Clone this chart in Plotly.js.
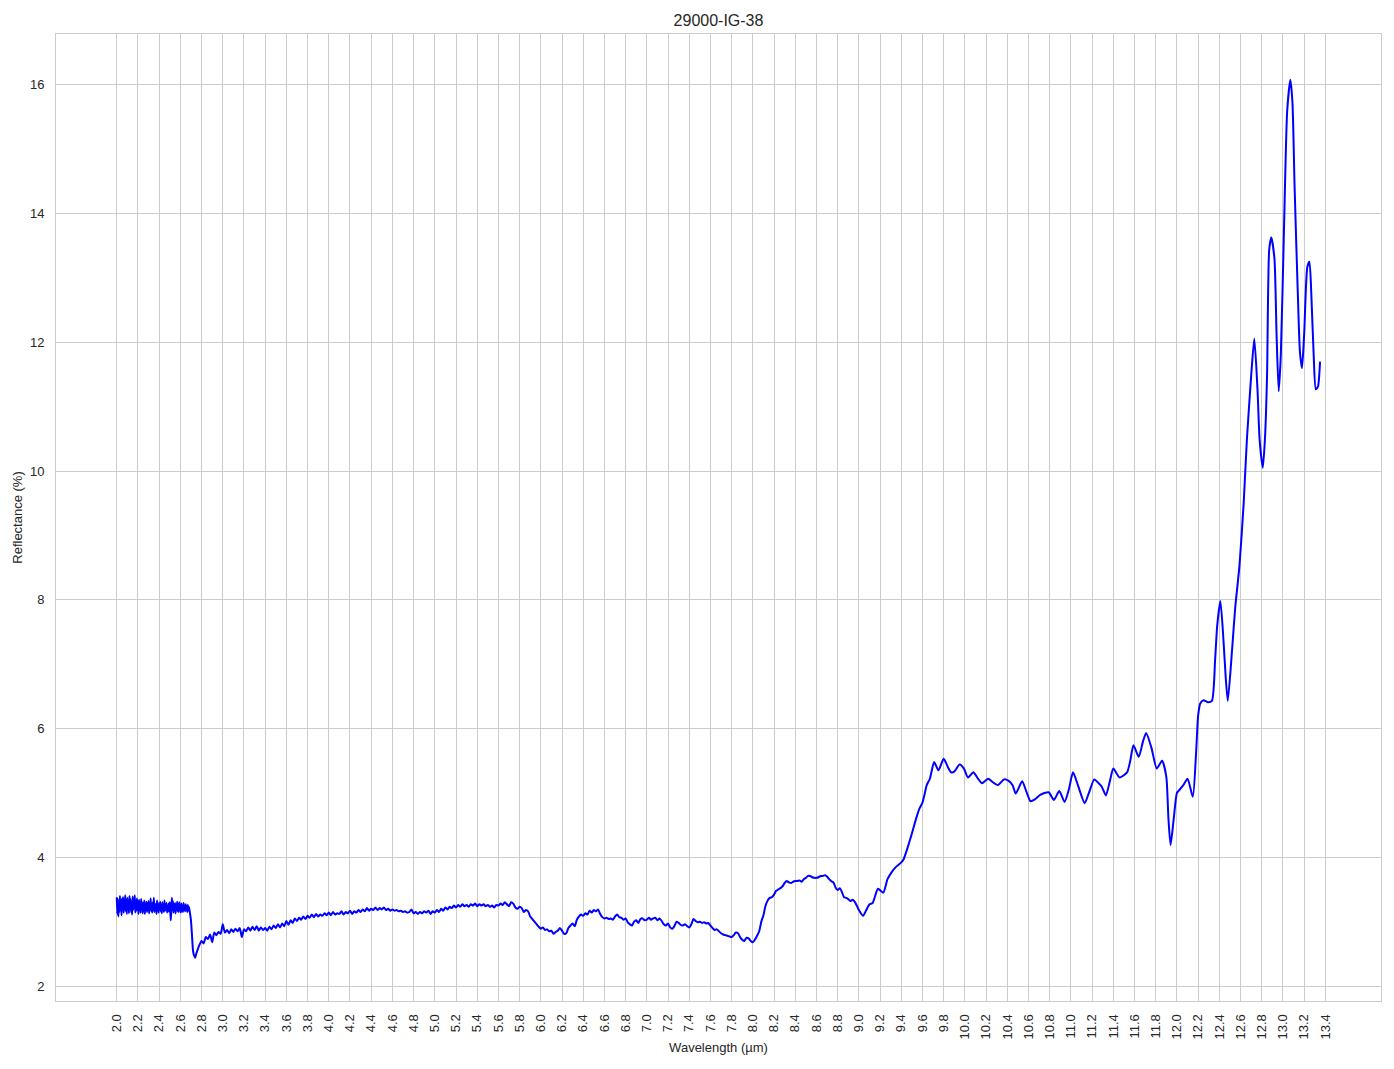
<!DOCTYPE html>
<html>
<head>
<meta charset="utf-8">
<script src="https://cdn.plot.ly/plotly-3.0.1.min.js"></script>
<style>html,body{margin:0;padding:0;background:#fff;}#chart{width:1394px;height:1069px;}</style>
</head>
<body>
<div id="chart"></div>
<script>
// ---- data ----
const chartTitle = "29000-IG-38";
const xLabel = "Wavelength (µm)";
const yLabel = "Reflectance (%)";

// noisy start, sampled on a regular wavelength grid
const seg1Start = 2.0, seg1Step = 0.005;
const seg1Y = [
3.38,3.12,3.35,3.08,3.30,3.15,3.40,3.18,3.33,3.10,
3.36,3.22,3.38,3.14,3.29,3.20,3.41,3.16,3.34,3.12,
3.37,3.19,3.32,3.13,3.40,3.21,3.35,3.15,3.30,3.11,
3.39,3.18,3.33,3.22,3.41,3.14,3.28,3.17,3.36,3.20,
3.31,3.12,3.34,3.19,3.27,3.14,3.35,3.21,3.30,3.13,
3.29,3.17,3.33,3.12,3.26,3.20,3.31,3.15,3.28,3.18,
3.32,3.13,3.27,3.19,3.36,3.16,3.25,3.14,3.30,3.18,
3.37,3.15,3.28,3.20,3.26,3.12,3.33,3.17,3.29,3.14,
3.27,3.19,3.31,3.16,3.25,3.13,3.30,3.18,3.27,3.15,
3.33,3.17,3.26,3.20,3.29,3.14,3.24,3.16,3.28,3.16,
3.30,3.15,3.02,3.19,3.37,3.18,3.32,3.14,3.27,3.17,
3.29,3.13,3.25,3.19,3.31,3.16,3.27,3.15,3.30,3.18,
3.26,3.14,3.28,3.17,3.24,3.15,3.29,3.19,3.25,3.16,
3.27,3.18,3.24,3.15,3.26,3.17,3.23,3.19
];

// the sharp drop near 2.7 µm
const dropX = [2.69,2.70,2.71,2.72,2.73,2.74,2.75];
const dropY = [3.14,3.02,2.78,2.54,2.47,2.44,2.50];

// slowly rising noisy plateau
const seg2Start = 2.76, seg2Step = 0.02;
const seg2Y = [
2.55,2.64,2.70,2.66,2.76,2.73,2.80,2.68,2.83,2.79,
2.84,2.81,2.96,2.83,2.87,2.82,2.88,2.84,2.89,2.85,
2.90,2.76,2.88,2.85,2.91,2.86,2.92,2.87,2.93,2.86,
2.91,2.87,2.90,2.86,2.92,2.88,2.94,2.90,2.96,2.91,
2.97,2.93,3.01,2.95,3.02,2.98,3.05,3.01,3.06,3.03,
3.08,3.04,3.09,3.06,3.11,3.07,3.12,3.08,3.11,3.09,
3.13,3.10,3.14,3.10,3.15,3.11,3.13,3.12,3.16,3.11,
3.15,3.13,3.17,3.12,3.16,3.14,3.18,3.15,3.19,3.16,
3.21,3.17,3.20,3.18,3.22,3.18,3.21,3.19,3.22,3.18,
3.20,3.17,3.19,3.17,3.18,3.16,3.17,3.15,3.16,3.14,
3.15,3.19,3.13,3.15,3.12,3.15,3.13,3.16,3.14,3.17,
3.12,3.16,3.14,3.18,3.15,3.20,3.17,3.22,3.19,3.23,
3.21,3.25,3.22,3.26,3.23,3.27,3.24,3.26,3.23,3.27,
3.25,3.28,3.24,3.27,3.25,3.27,3.24,3.26,3.23,3.25,
3.22,3.26,3.25,3.28,3.26,3.30,3.27,3.24,3.30,3.28,
3.22,3.20,3.23,3.21,3.15,3.18,3.16,3.08
];

// middle section 5.92 - 9.00 µm
const seg3Start = 5.92, seg3Step = 0.02;
const seg3Y = [
3.04,3.00,2.96,2.92,2.89,2.91,2.87,2.88,2.85,2.86,
2.81,2.84,2.86,2.90,2.86,2.81,2.82,2.90,2.94,2.97,
2.93,3.03,3.08,3.11,3.09,3.13,3.11,3.17,3.14,3.18,
3.16,3.19,3.12,3.07,3.05,3.06,3.04,3.05,3.03,3.08,
3.11,3.07,3.06,3.03,3.05,2.99,2.96,2.94,3.00,3.02,
2.98,3.04,3.05,3.02,3.03,3.06,3.03,3.05,3.06,3.02,
3.05,3.01,2.96,2.94,2.97,2.91,2.89,2.93,3.00,2.98,
2.95,2.94,2.96,2.93,2.91,2.96,3.04,3.01,2.99,3.00,
2.98,2.99,2.97,2.98,2.94,2.90,2.87,2.88,2.85,2.82,
2.80,2.79,2.78,2.77,2.76,2.79,2.83,2.82,2.76,2.72,
2.70,2.75,2.74,2.70,2.68,2.72,2.78,2.85,3.00,3.10,
3.25,3.33,3.37,3.38,3.42,3.48,3.50,3.52,3.55,3.60,
3.63,3.61,3.60,3.62,3.63,3.63,3.64,3.62,3.66,3.68,
3.71,3.71,3.69,3.68,3.68,3.69,3.71,3.71,3.72,3.70,
3.66,3.63,3.61,3.53,3.49,3.52,3.46,3.38,3.37,3.35,
3.32,3.34,3.31,3.25,3.18
];

// smooth oscillating tail 9.04 - 13.35 µm
const tailX = [
9.04,9.07,9.10,9.13,9.18,9.23,9.27,9.31,9.35,9.40,9.42,9.46,9.50,9.54,9.57,9.60,9.62,9.64,9.67,9.71,
9.75,9.80,9.84,9.87,9.90,9.95,9.99,10.03,10.08,10.12,10.16,10.22,10.26,10.31,10.37,10.41,10.45,10.48,10.54,10.58,
10.62,10.66,10.71,10.79,10.84,10.89,10.94,10.98,11.02,11.07,11.13,11.17,11.22,11.25,11.29,11.33,11.37,11.40,11.46,11.53,
11.56,11.59,11.64,11.68,11.71,11.76,11.81,11.86,11.90,11.92,11.94,11.97,12.00,12.02,12.06,12.10,12.15,12.18,12.20,12.22,
12.25,12.29,12.33,12.36,12.38,12.41,12.44,12.46,12.48,12.52,12.55,12.59,12.63,12.66,12.70,12.73,12.76,12.78,12.81,12.83,
12.85,12.87,12.89,12.92,12.94,12.96,12.98,13.01,13.04,13.07,13.09,13.11,13.14,13.16,13.18,13.20,13.23,13.25,13.27,13.29,
13.31,13.33,13.35
];
const tailY = [
3.09,3.18,3.27,3.29,3.51,3.45,3.66,3.77,3.85,3.92,3.96,4.15,4.37,4.60,4.75,4.85,4.98,5.12,5.22,5.48,
5.35,5.53,5.40,5.32,5.33,5.44,5.38,5.24,5.32,5.23,5.15,5.22,5.17,5.12,5.21,5.19,5.12,4.99,5.18,5.02,
4.87,4.90,4.97,5.01,4.89,5.03,4.86,5.05,5.32,5.10,4.84,5.00,5.21,5.17,5.10,4.96,5.20,5.38,5.24,5.32,
5.50,5.74,5.56,5.80,5.93,5.70,5.38,5.50,5.25,4.60,4.19,4.60,5.00,5.04,5.12,5.22,4.94,5.60,6.20,6.39,
6.44,6.41,6.43,7.06,7.60,7.98,7.35,6.80,6.43,7.22,7.88,8.53,9.51,10.49,11.47,12.06,11.27,10.49,10.05,10.49,
11.47,13.43,13.63,13.30,12.12,11.24,11.80,13.76,15.59,16.08,15.72,14.41,12.78,11.86,11.60,12.12,13.17,13.25,12.65,11.80,
11.27,11.31,11.70
];

const xTickVals = [2.0,2.2,2.4,2.6,2.8,3.0,3.2,3.4,3.6,3.8,4.0,4.2,4.4,4.6,4.8,5.0,5.2,5.4,5.6,5.8,
6.0,6.2,6.4,6.6,6.8,7.0,7.2,7.4,7.6,7.8,8.0,8.2,8.4,8.6,8.8,9.0,9.2,9.4,9.6,9.8,
10.0,10.2,10.4,10.6,10.8,11.0,11.2,11.4,11.6,11.8,12.0,12.2,12.4,12.6,12.8,13.0,13.2,13.4];
const yTickVals = [2,4,6,8,10,12,14,16];

// ---- assemble the series ----
const xs = [], ys = [];
seg1Y.forEach((v,i)=>{ xs.push(+(seg1Start + i*seg1Step).toFixed(3)); ys.push(v); });
dropX.forEach((v,i)=>{ xs.push(v); ys.push(dropY[i]); });
seg2Y.forEach((v,i)=>{ xs.push(+(seg2Start + i*seg2Step).toFixed(3)); ys.push(v); });
seg3Y.forEach((v,i)=>{ xs.push(+(seg3Start + i*seg3Step).toFixed(3)); ys.push(v); });
tailX.forEach((v,i)=>{ xs.push(v); ys.push(tailY[i]); });

const textColor = '#262626';
const gridColor = '#cccccc';
const fontFamily = '"Liberation Sans", Arial, Helvetica, sans-serif';

const trace = {
  x: xs, y: ys, type: 'scatter', mode: 'lines',
  line: {color: '#0000ff', width: 2, shape: 'spline', smoothing: 0.6, simplify: false},
  hoverinfo: 'x+y', showlegend: false
};

const layout = {
  width: 1394, height: 1069,
  margin: {l: 56, r: 13, t: 34, b: 68, pad: 0},
  paper_bgcolor: '#ffffff', plot_bgcolor: '#ffffff',
  font: {family: fontFamily, size: 13, color: textColor},
  title: {text: chartTitle, font: {family: fontFamily, size: 16, color: textColor},
          x: 0.5, xref: 'paper', xanchor: 'center', y: 1 - 20/1069, yref: 'container', yanchor: 'middle'},
  showlegend: false,
  xaxis: {
    range: [1.427, 13.925], tickmode: 'array', tickvals: xTickVals,
    ticktext: xTickVals.map(v => v.toFixed(1)), tickangle: -90,
    showgrid: true, gridcolor: gridColor, gridwidth: 1,
    showline: true, linecolor: gridColor, linewidth: 1, mirror: true,
    zeroline: false, ticks: '', ticklabelstandoff: 7,
    tickfont: {family: fontFamily, size: 13, color: textColor},
    title: {text: xLabel, font: {family: fontFamily, size: 13, color: textColor}, standoff: 4},
    automargin: false
  },
  yaxis: {
    range: [1.767, 16.79], tickmode: 'array', tickvals: yTickVals,
    ticktext: yTickVals.map(v => String(v)),
    showgrid: true, gridcolor: gridColor, gridwidth: 1,
    showline: true, linecolor: gridColor, linewidth: 1, mirror: true,
    zeroline: false, ticks: '', ticklabelstandoff: 8,
    tickfont: {family: fontFamily, size: 13, color: textColor},
    title: {text: yLabel, font: {family: fontFamily, size: 13, color: textColor}, standoff: 4},
    automargin: false
  }
};

Plotly.newPlot('chart', [trace], layout, {displayModeBar: false, staticPlot: true});
</script>
</body>
</html>
